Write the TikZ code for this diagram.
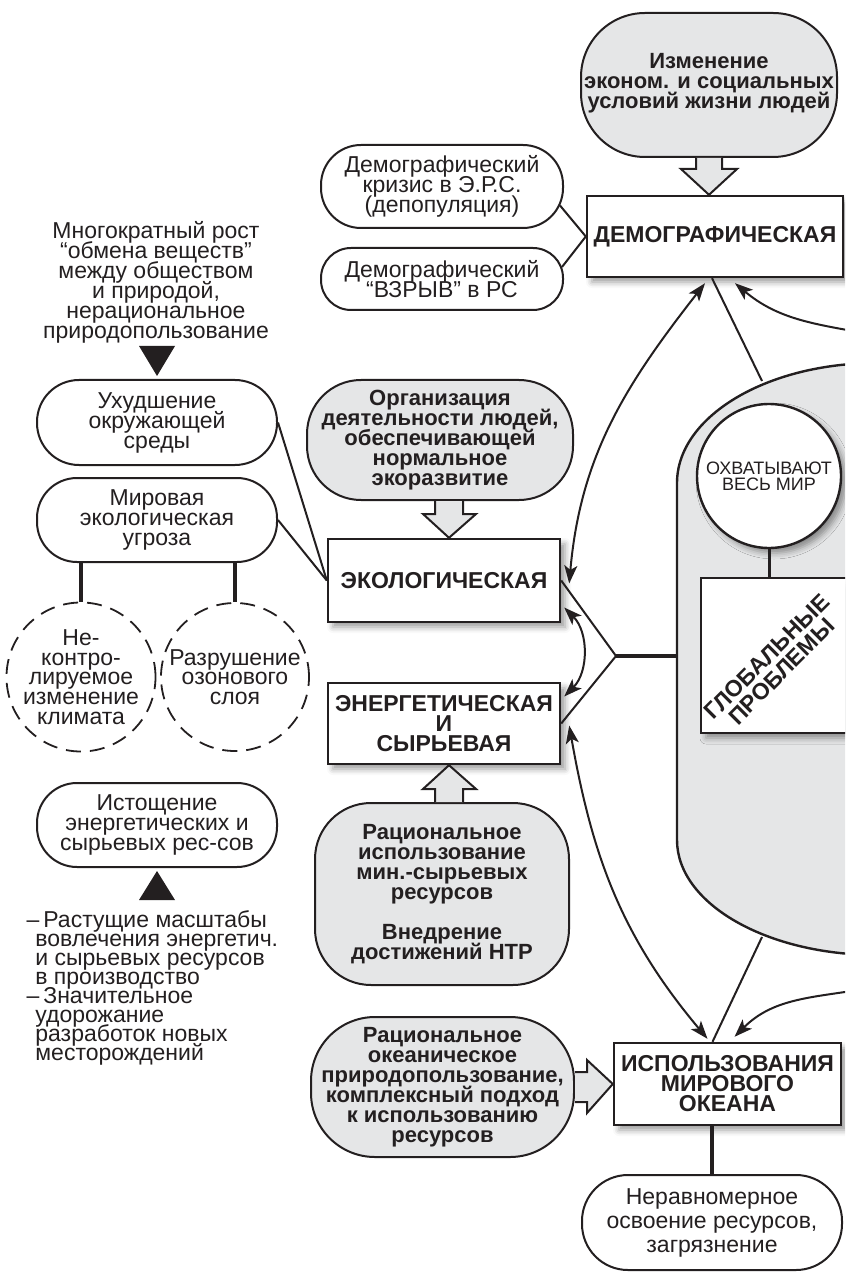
\documentclass[tikz,border=0pt]{standalone}
\usepackage{fontspec}
\setmainfont{Liberation Sans}
\usepackage{tikz}
\usetikzlibrary{arrows.meta, calc, shadows.blur}
\definecolor{PanelGray}{RGB}{229, 230, 231}
\definecolor{InkBlack}{RGB}{35, 31, 32}
\newcommand{\tightlines}{\lineskiplimit=-20pt\lineskip=0pt}
\newcommand{\causefont}{\fontsize{11.5}{10}\selectfont\tightlines}
\newcommand{\measurefont}{\bfseries\fontsize{11}{10}\selectfont\tightlines}
\newcommand{\problemfont}{\bfseries\fontsize{11.5}{10}\selectfont\tightlines}

\begin{document}
\begin{tikzpicture}[
    x=0.5pt, y=-0.5pt,
    >={Stealth[length=9pt, width=6.5pt, inset=2.2pt]},
    every node/.style={inner sep=0pt, align=center, text=InkBlack},
    cause/.style={rectangle, rounded corners=20pt, draw=InkBlack, line width=1pt,
                  fill=white, minimum width=120pt, minimum height=42pt,
                  font=\causefont},
    measure/.style={rectangle, draw=InkBlack, line width=1pt, fill=PanelGray,
                    font=\measurefont},
    problem/.style={rectangle, draw=InkBlack, line width=1.2pt, fill=white,
                    font=\problemfont,
                    blur shadow={shadow xshift=2.5pt, shadow yshift=-2.5pt,
                                 shadow blur radius=3pt, shadow opacity=40}},
    feature/.style={circle, draw=InkBlack, line width=1.2pt, fill=white,
                    minimum size=72pt, font=\fontsize{9}{8}\selectfont\tightlines,
                    blur shadow={shadow xshift=2.5pt, shadow yshift=-2.5pt,
                                 shadow blur radius=3pt, shadow opacity=40}},
    risk/.style={circle, draw=InkBlack, line width=0.9pt,
                 dash pattern=on 7.5pt off 4.5pt, minimum size=74pt,
                 font=\fontsize{11.5}{9.8}\selectfont\tightlines},
    note/.style={font=\causefont},
    link/.style={draw=InkBlack, line width=1pt},
    heavylink/.style={draw=InkBlack, line width=1.8pt},
    arr/.style={->, draw=InkBlack, line width=1pt},
    dual/.style={<->, draw=InkBlack, line width=1pt},
    blockarr/.style={draw=InkBlack, line width=1pt, fill=PanelGray, line join=miter},
    marker/.style={fill=InkBlack}
]
\useasboundingbox (0,0) rectangle (845,1272);
\clip (0,0) rectangle (845,1272);

% --- Global problems panel ----------------------------------------------
\draw[link, line width=1.2pt, fill=PanelGray]
    (950,363) -- (877,363) .. controls (766.5,363) and (677,416.7) .. (677,483)
    -- (677,840) .. controls (677,903.5) and (766.5,955) .. (877,955) -- (950,955);
\coordinate (gp-n)  at (762,381);
\coordinate (gp-w)  at (677,656);
\coordinate (gp-s)  at (762,937);
\coordinate (gp-ne) at (870,334);
\coordinate (gp-se) at (870,988);

\node[feature] (world) at (769,476) {ОХВАТЫВАЮТ\\ВЕСЬ МИР};
\node[problem, minimum width=99.5pt, minimum height=77.5pt] (glob) at (800.5,655.5) {};
\node[font=\bfseries\fontsize{11.5}{10.5}\selectfont\tightlines, rotate=45] (globlbl)
      at (774,664) {ГЛОБАЛЬНЫЕ\\ПРОБЛЕМЫ};

% --- Problems -----------------------------------------------------------
\node[problem, minimum width=128pt, minimum height=40.5pt] (dem)    at (715,236.5)
      {ДЕМОГРАФИЧЕСКАЯ};
\node[problem, minimum width=116pt, minimum height=41.5pt] (eco)    at (444,580.5)
      {ЭКОЛОГИЧЕСКАЯ};
\node[problem, minimum width=116pt, minimum height=40.5pt] (energy) at (444,723.5)
      {ЭНЕРГЕТИЧЕСКАЯ\\И\\СЫРЬЕВАЯ};
\node[problem, minimum width=113.5pt, minimum height=41pt] (use)    at (727.5,1084)
      {ИСПОЛЬЗОВАНИЯ\\МИРОВОГО\\ОКЕАНА};

% --- Measures -----------------------------------------------------------
\node[measure, minimum width=128pt, minimum height=72pt, rounded corners=32pt]
      (chg) at (709,85) {Изменение\\эконом. и социальных\\условий жизни людей\\[-6pt]};
\node[measure, minimum width=133pt, minimum height=60pt, rounded corners=27pt]
      (org) at (440,440) {Организация\\деятельности людей,\\обеспечивающей\\нормальное\\экоразвитие};
\node[measure, minimum width=127pt, minimum height=91pt, rounded corners=28pt]
      (rat) at (442,894) {Рациональное\\использование\\мин.-сырьевых\\ресурсов\\[10pt]Внедрение\\достижений НТР};
\node[measure, minimum width=131.5pt, minimum height=70pt, rounded corners=32pt]
      (ocean) at (442.5,1087) {Рациональное\\океаническое\\природопользование,\\комплексный подход\\к использованию\\ресурсов};

% --- Causes -------------------------------------------------------------
\node[cause, minimum width=121pt, minimum height=41.5pt] (crisis) at (442,186.5)
      {Демографический\\кризис в Э.Р.С.\\(депопуляция)};
\node[cause, minimum width=121pt, minimum height=31pt, rounded corners=15pt]
      (boom) at (442,279) {Демографический\\“ВЗРЫВ” в РС};
\node[note] (many) at (156,282.5)
      {Многократный рост\\“обмена веществ”\\между обществом\\и природой,\\нерациональное\\природопользование};
\node[cause, minimum height=42.5pt, rounded corners=21pt] (worse)  at (157,422.5)
      {Ухудшение\\окружающей\\среды};
\node[cause] (threat) at (157,520) {Мировая\\экологическая\\угроза};
\node[risk] (clim)  at (81,677)  {Не-\\контро-\\лируемое\\изменение\\климата};
\node[risk] (ozone) at (235,677) {Разрушение\\озонового\\слоя};
\node[cause] (depl) at (157,825) {Истощение\\энергетических и\\сырьевых рес-сов};
\node[note, align=left, anchor=north west,
      font=\fontsize{11.5}{9.5}\selectfont\tightlines]
      (trend) at (35,910)
      {\hspace*{4pt}\llap{–\hspace{2pt}}Растущие масштабы\\вовлечения энергетич.\\и сырьевых ресурсов\\в производство\\\hspace*{4pt}\llap{–\hspace{2pt}}Значительное\\удорожание\\разработок новых\\месторождений};
\node[cause, minimum width=130pt, minimum height=47.5pt, rounded corners=23pt,
      font=\fontsize{11.5}{12}\selectfont\tightlines] (uneven) at (712,1222.5)
      {Неравномерное\\освоение ресурсов,\\загрязнение};

% --- Block arrows -------------------------------------------------------
\draw[blockarr] ($(chg.south)+(-13,0)$) -- ++(0,11) -- ++(-15,0)
    -- (chg.south |- dem.north) -- ($(chg.south)+(28,11)$) -- ++(-15,0)
    -- ($(chg.south)+(13,0)$);
\draw[blockarr] ($(org.south)+(-5,0)$) -- ++(0,13) -- ++(-12,0)
    -- ($(eco.north)+(5,0)$) -- ($(org.south)+(36,13)$) -- ++(-13,0)
    -- ($(org.south)+(23,0)$);
\draw[blockarr] ($(rat.north)+(-7,0)$) -- ++(0,-13) -- ++(-12,0)
    -- ($(energy.south)+(5,0)$) -- ($(rat.north)+(34,-13)$) -- ++(-13,0)
    -- ($(rat.north)+(21,0)$);
\draw[blockarr] ($(ocean.east)+(0,-15)$) -- ++(12,0) -- ++(0,-12)
    -- (use.west) -- ($(ocean.east)+(12,26)$) -- ++(0,-11)
    -- ($(ocean.east)+(0,15)$);

% --- Markers ------------------------------------------------------------
\fill[marker] ($(worse.north)+(-18,-33)$) -- ($(worse.north)+(18,-33)$)
    -- ($(worse.north)+(0,-3)$) -- cycle;
\fill[marker] ($(depl.south)+(-18,32)$) -- ($(depl.south)+(18,32)$)
    -- ($(depl.south)+(0,3)$) -- cycle;

% --- Links --------------------------------------------------------------
\draw[link] ($(crisis.east)+(-4,19)$) -- (dem.west);
\draw[link] ($(boom.east)+(-2,-12)$)  -- (dem.west);
\draw[link] (worse.east)  -- (eco.west);
\draw[link] (threat.east) -- (eco.west);
\draw[heavylink] (clim.north |- threat.south)  -- (clim.north);
\draw[heavylink] (ozone.north |- threat.south) -- (ozone.north);

\draw[link] ($(dem.south)+(-3,0)$) -- (gp-n);
\draw[arr]  (gp-ne) to[out=170, in=-40] ($(dem.south)+(20,5)$);
\draw[dual] ($(dem.south)+(-10,5)$) to[out=232, in=85] ($(eco.east)+(8,3)$);

\coordinate (fork) at (616,656);
\draw[link] (eco.east) -- (fork) -- (energy.east);
\draw[heavylink] (fork) -- (gp-w);
\draw[dual] ($(eco.east)+(3,27)$) to[out=-45, in=45] ($(energy.east)+(3,-27)$);
\draw[dual] ($(energy.east)+(8,2)$) to[out=-80, in=130] ($(use.north)+(-20,-3)$);

\draw[link] (gp-s) -- ($(use.north)+(-15,0)$);
\draw[arr]  (gp-se) to[out=190, in=45] ($(use.north)+(7,-5)$);
\draw[heavylink, line width=1.5pt] (world.south) -- (world.south |- glob.north);
\draw[heavylink] (uneven.north |- use.south) -- (uneven.north);

\end{tikzpicture}
\end{document}
